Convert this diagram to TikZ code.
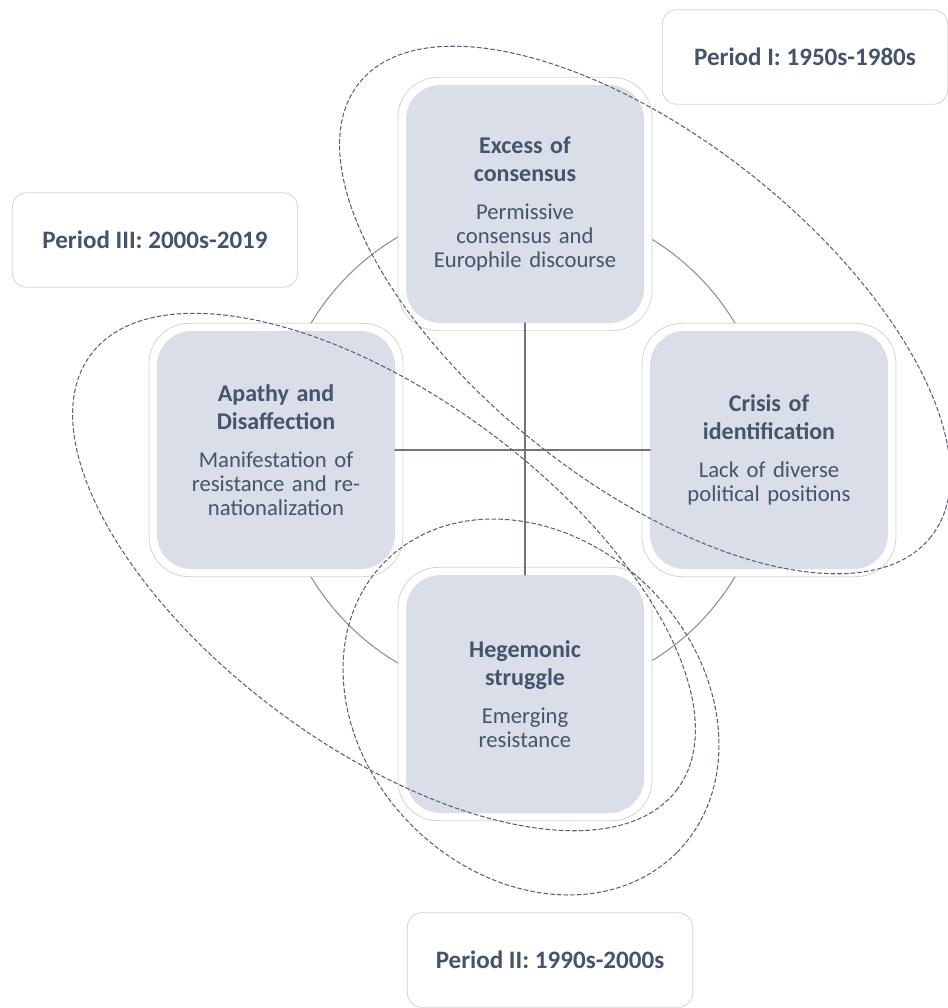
\documentclass[tikz,border=0pt]{standalone}
\usepackage{fontspec}
\setmainfont{Carlito}
\usepackage{tikz}
\usetikzlibrary{arrows.meta}

\definecolor{stagefill}{HTML}{D9DEE8}
\definecolor{stagetext}{HTML}{44546A}
\definecolor{frameedge}{HTML}{D4D4D4}
\definecolor{ringgray}{HTML}{8C9099}
\definecolor{axisgray}{HTML}{6E7482}
\definecolor{dashgray}{HTML}{5B6272}

\newcommand{\stagehead}[1]{{\bfseries\fontsize{18}{21}\selectfont #1\par}\vspace{11pt}}

\begin{document}
\begin{tikzpicture}[line cap=round,line join=round,x=0.75pt,y=-0.75pt,
  stageframe/.style={fill=white,draw=frameedge,line width=0.6pt,rounded corners=30pt,minimum width=190.5pt,minimum height=190pt,inner sep=0pt,outer sep=0pt},
  stagebox/.style={fill=stagefill,rounded corners=26pt,minimum width=178.5pt,minimum height=178.5pt,inner sep=0pt,outer sep=0pt,text=stagetext,text width=170pt,align=center,font=\fontsize{17}{18}\selectfont},
  periodbox/.style={fill=white,draw=frameedge,line width=0.6pt,rounded corners=11pt,minimum width=214pt,minimum height=71pt,text=stagetext,font=\bfseries\fontsize{18.8}{21}\selectfont},
  ring/.style={draw=dashgray,line width=0.8pt,dash pattern=on 3pt off 2pt}]
\useasboundingbox (0,0) rectangle (948,1008);
\coordinate (hub) at (523,450);
\draw[draw=ringgray,line width=0.8pt] (hub) circle (247);
% the four stages
\node[stageframe] (excessframe) at (525,204) {};
\node[stageframe] (apathyframe) at (276,450) {};
\node[stageframe] (crisisframe) at (769,450) {};
\node[stageframe] (hegemonicframe) at (525,694) {};
\node[stagebox] (excess) at (excessframe) {\stagehead{Excess of\\consensus}Permissive\\consensus and\\Europhile discourse};
\node[stagebox] (apathy) at (apathyframe) {\stagehead{Apathy and\\Disaffection}Manifestation of\\resistance and re-\\nationalization};
\node[stagebox] (crisis) at (crisisframe) {\stagehead{Crisis of\\identification}Lack of diverse\\political positions};
\node[stagebox] (hegemonic) at (hegemonicframe) {\stagehead{Hegemonic\\struggle}Emerging\\resistance};
\draw[draw=axisgray,line width=1pt] (excess.south) -- (hegemonic.north);
\draw[draw=axisgray,line width=1pt] (apathy.east) -- (crisis.west);
% periods
\coordinate (ringI) at (645,310);
\coordinate (ringII) at (531,707);
\coordinate (ringIII) at (384,572);
\draw[ring,rotate around={-38.4:(ringI)}] (ringI) ellipse [x radius=365,y radius=172];
\draw[ring,rotate around={-45:(ringII)}] (ringII) ellipse [x radius=206,y radius=168];
\draw[ring,rotate around={-36.5:(ringIII)}] (ringIII) ellipse [x radius=365,y radius=175];
\node[periodbox] (periodI) at (805,57) {Period I: 1950s-1980s};
\node[periodbox] (periodIII) at (155,240) {Period III: 2000s-2019};
\node[periodbox] (periodII) at (550,960) {Period II: 1990s-2000s};
\end{tikzpicture}
\end{document}
